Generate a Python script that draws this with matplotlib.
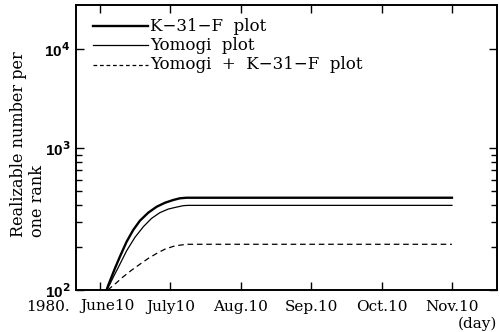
import numpy as np
import matplotlib
matplotlib.use("Agg")
import matplotlib.pyplot as plt
import matplotlib.transforms as mtransforms
from matplotlib.ticker import FixedLocator, NullFormatter

# x = months after June 10 (ticks are evenly spaced per month)
month_labels = ["June10", "July10", "Aug.10", "Sep.10", "Oct.10", "Nov.10"]

k31f_x = [0.095, 0.118, 0.166, 0.213, 0.284, 0.379, 0.473, 0.568, 0.687,
          0.805, 0.923, 1.042, 1.136, 1.231, 5.0]
k31f_y = [100, 108, 124, 142, 172, 219, 265, 308, 351, 386, 412, 431, 443, 447, 447]

yomogi_x = [0.095, 0.142, 0.189, 0.260, 0.379, 0.497, 0.616, 0.734, 0.852,
            0.971, 1.089, 1.184, 1.255, 5.0]
yomogi_y = [100, 110, 123, 144, 189, 235, 279, 320, 351, 372, 384, 393, 395, 395]

mixed_x = [0.11, 0.213, 0.331, 0.450, 0.568, 0.687, 0.805, 0.923, 1.042,
           1.136, 1.231, 5.0]
mixed_y = [100, 110, 124, 138, 152, 167, 181, 194, 203, 207, 210, 210]

series_names = ["K\u221231\u2212F  plot", "Yomogi  plot", "Yomogi  +  K\u221231\u2212F  plot"]

# upper decade (10^3..10^4) is drawn compressed relative to the lower one
SQ = 99.0 / 142.0


def fwd(y):
    t = np.log10(np.clip(y, 1e-9, None))
    return np.where(t > 3, 3 + (t - 3) * SQ, t)


def inv(u):
    u = np.asarray(u, dtype=float)
    return np.where(u > 3, 10 ** (3 + (u - 3) / SQ), 10 ** u)


plt.rcParams['font.family'] = ['DejaVu Serif']

fig = plt.figure(figsize=(5, 3.32), dpi=100)
ax = fig.add_axes([0.152, 0.1265, 0.842, 0.8585])

ax.plot(k31f_x, k31f_y, color="black", lw=1.7)
ax.plot(yomogi_x, yomogi_y, color="black", lw=0.9)
ax.plot(mixed_x, mixed_y, color="black", lw=0.9, dashes=(4.5, 3))

ax.set_yscale("function", functions=(fwd, inv))
ax.set_ylim(100, 28000)
ax.set_xlim(-0.34, 5.64)

# y ticks
ax.yaxis.set_major_locator(FixedLocator([100, 1000, 10000]))
ax.yaxis.set_minor_locator(FixedLocator([200, 300, 400, 500, 600, 700, 800, 900]))
ax.yaxis.set_minor_formatter(NullFormatter())
ax.set_yticklabels(["10$^{\\mathbf{2}}$", "10$^{\\mathbf{3}}$", "10$^{\\mathbf{4}}$"],
                   fontfamily="Liberation Sans", fontweight="bold", fontsize=11)

# x ticks; the first label sits a little right of its tick, after "1980."
ax.set_xticks(range(len(month_labels)))
ax.set_xticklabels([""] + month_labels[1:], fontsize=11)
shift = ax.get_xaxis_transform() + mtransforms.ScaledTranslation(0.08, 0, fig.dpi_scale_trans)
ax.text(0, -0.055, month_labels[0], transform=shift, fontsize=11, ha="center", va="center")

ax.tick_params(which="both", direction="in", top=True, right=True, width=1.0)
ax.tick_params(which="major", length=6, pad=4)
ax.tick_params(which="minor", length=4)
ax.tick_params(axis="x", pad=7)
for s in ax.spines.values():
    s.set_linewidth(1.4)

# legend drawn by hand at top left
lx0, lx1, tx = 0.04, 0.17, 0.175
for i, (name, lw, ds) in enumerate([(series_names[0], 1.7, None),
                                    (series_names[1], 0.9, None),
                                    (series_names[2], 0.9, (3, 2.2))]):
    yy = 0.925 - i * 0.067
    ln, = ax.plot([lx0, lx1], [yy, yy], transform=ax.transAxes, color="black", lw=lw)
    if ds:
        ln.set_dashes(ds)
    ax.text(tx, yy, name, transform=ax.transAxes, fontsize=12, va="center", ha="left")

fig.text(0.095, 0.074, "1980.", fontsize=11, ha="center", va="center")
fig.text(0.954, 0.024, "(day)", fontsize=11, ha="center", va="center")

fig.text(0.056, (332 - 237) / 332, "Realizable number per\none rank", rotation=90,
         ha="center", va="bottom", multialignment="left", fontsize=11.5,
         linespacing=1.15)

fig.savefig("out.png", dpi=100)
